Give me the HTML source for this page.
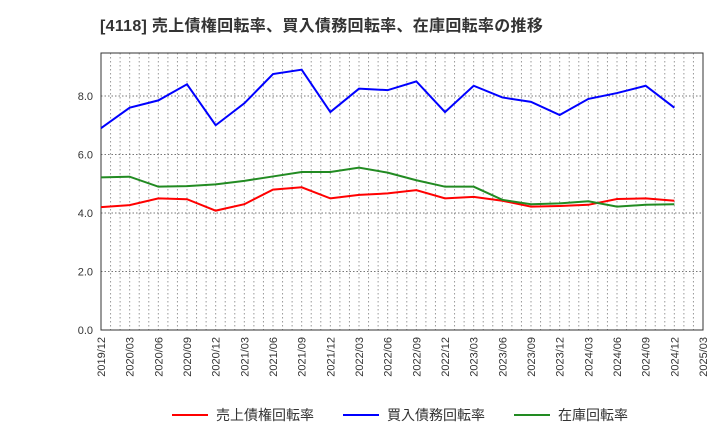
<!DOCTYPE html>
<html><head><meta charset="utf-8"><style>
body{margin:0;background:#fff;font-family:"Liberation Sans","Noto Sans CJK JP",sans-serif}
</style></head><body>
<svg id="c" width="720" height="440" xmlns="http://www.w3.org/2000/svg">
<text x="100" y="31" font-size="16" letter-spacing="0.3" font-weight="bold" fill="#333" font-family="Liberation Sans, Noto Sans CJK JP, sans-serif">[4118]  売上債権回転率、買入債務回転率、在庫回転率の推移</text>
<g id="grid"></g><g id="axes"></g><g id="series"></g><g id="legend"></g>
</svg>
<script>
const categories=["2019/12","2020/03","2020/06","2020/09","2020/12","2021/03","2021/06","2021/09","2021/12","2022/03","2022/06","2022/09","2022/12","2023/03","2023/06","2023/09","2023/12","2024/03","2024/06","2024/09","2024/12","2025/03"];
const receivables=[4.2,4.27,4.5,4.47,4.08,4.3,4.8,4.88,4.5,4.62,4.67,4.78,4.5,4.55,4.42,4.22,4.24,4.28,4.48,4.5,4.42];
const payables=[6.9,7.6,7.85,8.4,7.0,7.75,8.75,8.9,7.45,8.25,8.2,8.5,7.45,8.35,7.95,7.8,7.35,7.9,8.1,8.35,7.6];
const inventory=[5.22,5.24,4.9,4.92,4.98,5.1,5.25,5.4,5.4,5.55,5.38,5.12,4.9,4.9,4.45,4.3,4.33,4.4,4.22,4.28,4.3];
const yTicks=[0,2,4,6,8];
const yLabels=["0.0","2.0","4.0","6.0","8.0"];
const NS="http://www.w3.org/2000/svg";
const L=101,R=703,T=53,B=330,yMax=9.47;
const x=i=>L+i*(R-L)/21;
const y=v=>B-v*(B-T)/yMax;
function mk(t,a,p){const e=document.createElementNS(NS,t);for(const k in a)e.setAttribute(k,a[k]);p.appendChild(e);return e;}
const grid=document.getElementById('grid'),axes=document.getElementById('axes'),ser=document.getElementById('series'),leg=document.getElementById('legend');
for(let m=1;m<63;m++){const xx=L+m*(R-L)/63;const g=mk('line',{x1:xx,x2:xx,y1:T,y2:B,stroke:'#999','stroke-dasharray':'1.5,2.5','stroke-width':1},grid);

}
yTicks.forEach((v,i)=>{if(v>0){const g=mk('line',{x1:L,x2:R,y1:y(v),y2:y(v),stroke:'#777','stroke-dasharray':'1.5,2','stroke-width':1},grid);

}
const t=mk('text',{x:L-8,y:y(v)+4,'text-anchor':'end','font-size':11,fill:'#333'},axes);t.textContent=yLabels[i];

});
const fr=mk('rect',{x:L,y:T,width:R-L,height:B-T,fill:'none',stroke:'#333','stroke-width':1},axes);


categories.forEach((c,i)=>{const t=mk('text',{transform:`translate(${x(i)+4},337) rotate(-90)`,'text-anchor':'end','font-size':11,fill:'#333'},axes);t.textContent=c;

});
[[receivables,'#ff0000','receivables-turnover-line'],[payables,'#0000ff','payables-turnover-line'],[inventory,'#228b22','inventory-turnover-line']].forEach(([d,col,n])=>{
const p=mk('polyline',{points:d.map((v,i)=>x(i)+','+y(v)).join(' '),fill:'none',stroke:col,'stroke-width':2},ser);

});
[["売上債権回転率",'#ff0000',172],["買入債務回転率",'#0000ff',343],["在庫回転率",'#228b22',514]].forEach(([s,col,lx])=>{
const g=mk('g',{},leg);


mk('line',{x1:lx,x2:lx+36,y1:415,y2:415,stroke:col,'stroke-width':2},g);
const t=mk('text',{x:lx+44,y:420,'font-size':14,fill:'#333'},g);t.textContent=s;});
</script>
</body></html>
